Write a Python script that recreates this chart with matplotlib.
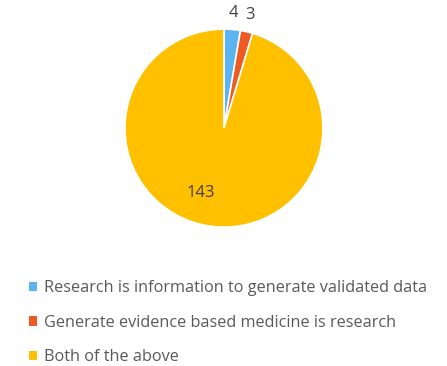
import matplotlib.pyplot as plt
import numpy as np

plt.rcParams['font.family'] = ['Open Sans', 'DejaVu Sans']

# DATOS
categorias = [
    "Research is information to generate validated data",
    "Generate evidence based medicine is research",
    "Both of the above",
]
valores = [4, 3, 143]
colores = ["#5AB4F0", "#EE5A24", "#FFC000"]

fig = plt.figure(figsize=(4.47, 3.66), dpi=100)
ax = fig.add_axes([0.501 - 0.2215, 0.650 - 0.2705, 0.443, 0.541])

wedges, _ = ax.pie(
    valores,
    colors=colores,
    startangle=90,
    counterclock=False,
    radius=1,
    wedgeprops=dict(edgecolor="white", linewidth=1.2),
)
ax.set_aspect("equal")
ax.set_xlim(-1, 1)
ax.set_ylim(-1, 1)

# Etiquetas de valores
for w, v in zip(wedges, valores):
    ang = np.deg2rad((w.theta1 + w.theta2) / 2)
    if v < 10:
        r = 1.17
    else:
        r = 0.69
        ang = ang - np.deg2rad(11)
    ax.text(
        r * np.cos(ang), r * np.sin(ang), str(v),
        ha="center", va="center", fontsize=12, color="#404040",
        clip_on=False
    )

leg = fig.legend(
    wedges, categorias,
    loc="upper left",
    bbox_to_anchor=(0.032, 0.275),
    frameon=False,
    fontsize=11.7,
    labelcolor="#595959",
    handlelength=0.5,
    handleheight=0.5,
    handletextpad=0.45,
    labelspacing=1.15,
)
for h in leg.legend_handles:
    h.set_edgecolor("none")

plt.savefig("out.png", dpi=100)
plt.close()
